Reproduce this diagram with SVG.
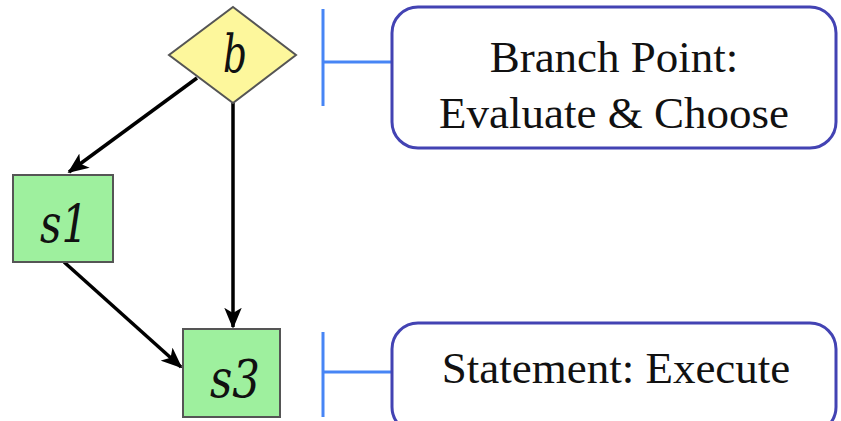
<svg xmlns="http://www.w3.org/2000/svg" width="841" height="421" viewBox="0 0 841 421">
<defs>
<marker id="arr" viewBox="0 0 12 10" refX="11" refY="5" markerWidth="6" markerHeight="5" orient="auto" markerUnits="strokeWidth">
<path d="M0,0 L12,5 L0,10 L3,5 z" fill="#000"/>
</marker>
<style>
.edge{fill:none;stroke:#000;stroke-width:3.5;marker-end:url(#arr)}
.stmt{fill:#9ef09e;stroke:#555;stroke-width:2}
.cond{fill:#fdf79c;stroke:#555;stroke-width:2}
.code{font-family:"DejaVu Serif",serif;font-style:italic;font-size:52px;fill:#111}
.brk{fill:none;stroke:#4785f5;stroke-width:3}
.note{fill:#fff;stroke:#4343b3;stroke-width:3}
.lbl{font-family:"Liberation Serif",serif;font-size:45px;fill:#111;text-anchor:middle}
</style>
</defs>
<g id="connectors">
<path class="edge" d="M197,78 L69,172"/>
<path class="edge" d="M233,103 L233,327"/>
<path class="edge" d="M64,262 L181,367"/>
</g>
<g id="b">
<polygon class="cond" points="233,7 296,55 233,103 169,55"/>
<text class="code" x="235" y="72" text-anchor="middle" textLength="24" lengthAdjust="spacingAndGlyphs">b</text>
</g>
<g id="s1">
<rect class="stmt" x="13" y="175" width="100" height="87"/>
<text class="code" x="40" y="242" textLength="48" lengthAdjust="spacingAndGlyphs">s1</text>
</g>
<g id="s3">
<rect class="stmt" x="183" y="329" width="97" height="88"/>
<text class="code" x="210" y="397" textLength="50" lengthAdjust="spacingAndGlyphs">s3</text>
</g>
<g id="note-branch">
<path class="brk" d="M323,9 L323,106 M323,62 L392,62"/>
<rect class="note" x="392" y="7" width="444" height="141" rx="26"/>
<text class="lbl" x="614" y="72">Branch Point:</text>
<text class="lbl" x="614" y="128">Evaluate &amp; Choose</text>
</g>
<g id="note-stmt">
<path class="brk" d="M323,332 L323,417 M323,372 L392,372"/>
<rect class="note" x="392" y="323" width="444" height="110" rx="26"/>
<text class="lbl" x="616" y="383">Statement: Execute</text>
</g>
</svg>
